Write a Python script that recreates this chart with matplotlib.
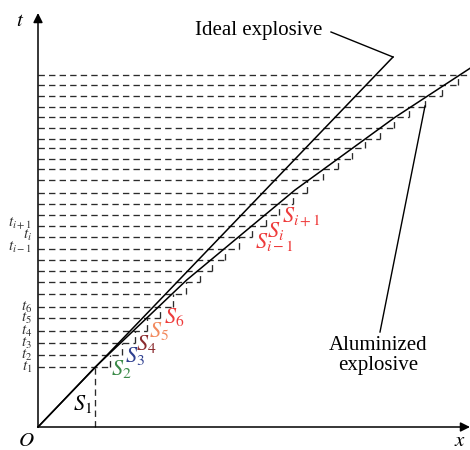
import matplotlib
matplotlib.use("Agg")
import matplotlib.pyplot as plt

plt.rcParams['font.family'] = ['Liberation Serif', 'DejaVu Serif']
plt.rcParams['mathtext.fontset'] = 'stix'
plt.rcParams['lines.scale_dashes'] = False

# time levels t_1 ... t_N (bottom to top) and where the aluminized front sits at each
t_levels = [59.7, 72, 83.7, 96, 108.7, 120.3, 132.7, 145, 156, 167, 178, 189.7,
            201, 212, 223, 234.3, 247, 257.7, 268, 278.7, 288.3, 299, 309.7,
            320.3, 331, 341.7, 351.7]
front_x = [57, 72, 83.7, 97, 108.7, 122, 134.7, 148.3, 161.7, 174.3, 187.2, 200.7,
           214.2, 227.8, 240.7, 254.5, 268.7, 285.3, 299.7, 314.3, 327, 342, 356,
           371, 387.3, 403.7, 419.7]

# aluminized front curve (x, t) read at a few points
alum_x = [0, 57, 148.7, 257, 357, 432]
alum_t = [0, 59.7, 147, 237, 309.7, 358.7]
ideal_x = [0, 355]
ideal_t = [0, 370]

# tick labels on the t axis: (label, level index)
t_labels = [(r'$t_1$', 0), (r'$t_2$', 1), (r'$t_3$', 2), (r'$t_4$', 3),
            (r'$t_5$', 4), (r'$t_6$', 5)]
t_labels_i = [(r'$t_{i-1}$', 10), (r'$t_i$', 11), (r'$t_{i+1}$', 12)]

# S labels: text, left x, baseline, colour
s_labels = [
    (r'$S_1$', 35, 17, 'black'),
    (r'$S_2$', 73, 52, '#3a8a48'),
    (r'$S_3$', 87, 65, '#2e3f8f'),
    (r'$S_4$', 98, 77, '#8b2b2e'),
    (r'$S_5$', 111, 90, '#f28a5e'),
    (r'$S_6$', 126, 104, '#ee3b3b'),
    (r'$S_{i-1}$', 217, 179, '#ee3b3b'),
    (r'$S_i$', 229, 190, '#ee3b3b'),
    (r'$S_{i+1}$', 244, 204, '#ee3b3b'),
]

fig = plt.figure(figsize=(4.7, 4.5), dpi=100)
ax = fig.add_axes([0, 0, 1, 1])
ax.set_xlim(-38, 432)
ax.set_ylim(-23, 427)
ax.axis('off')

dash = (0, (4.6, 3.0))
dcol = '#2b2b2b'

# staircase of dashed lines under the aluminized front
n = len(t_levels)
for i in range(n):
    x_end = front_x[i + 1] if i + 1 < n else alum_x[-1]
    ax.plot([0, x_end], [t_levels[i], t_levels[i]], color=dcol, lw=0.95, ls=dash)
    t_low = t_levels[i - 1] if i > 0 else 0
    ax.plot([front_x[i], front_x[i]], [t_low, t_levels[i]], color=dcol, lw=0.95, ls=dash)

# fronts
ax.plot(ideal_x, ideal_t, color='black', lw=1.1)
ax.plot(alum_x, alum_t, color='black', lw=1.1)

# axes arrows
arrow = dict(arrowstyle='-|>', lw=1.1, color='black', mutation_scale=14,
             shrinkA=0, shrinkB=0)
ax.annotate('', xy=(432, 0), xytext=(0, 0), arrowprops=arrow)
ax.annotate('', xy=(0, 414), xytext=(0, 0), arrowprops=arrow)
ax.text(-18, 405, r'$t$', fontsize=15, ha='center', va='center')
ax.text(422, -15, r'$x$', fontsize=15, ha='center', va='center')
ax.text(-12, -14, r'$O$', fontsize=15, ha='center', va='center')

# leaders and labels
ax.plot([ideal_x[-1], 293], [ideal_t[-1], 395], color='black', lw=1.0)
ax.text(284.5, 392, 'Ideal explosive', fontsize=15, ha='right', va='baseline')
ax.plot([387, 342], [321, 95], color='black', lw=1.0)
ax.text(340, 77, 'Aluminized', fontsize=15, ha='center', va='baseline')
ax.text(340, 57, 'explosive', fontsize=15, ha='center', va='baseline')

# t tick labels
for lab, k in t_labels:
    ax.text(-6, t_levels[k] - 4, lab, fontsize=11, ha='right', va='baseline',
            color='#333333')
for lab, k in t_labels_i:
    ax.text(-6, t_levels[k] - 1.5, lab, fontsize=11, ha='right', va='baseline',
            color='#333333')

for lab, x, y, c in s_labels:
    ax.text(x, y, lab, fontsize=16, ha='left', va='baseline', color=c)

fig.savefig('out.png', dpi=100)
